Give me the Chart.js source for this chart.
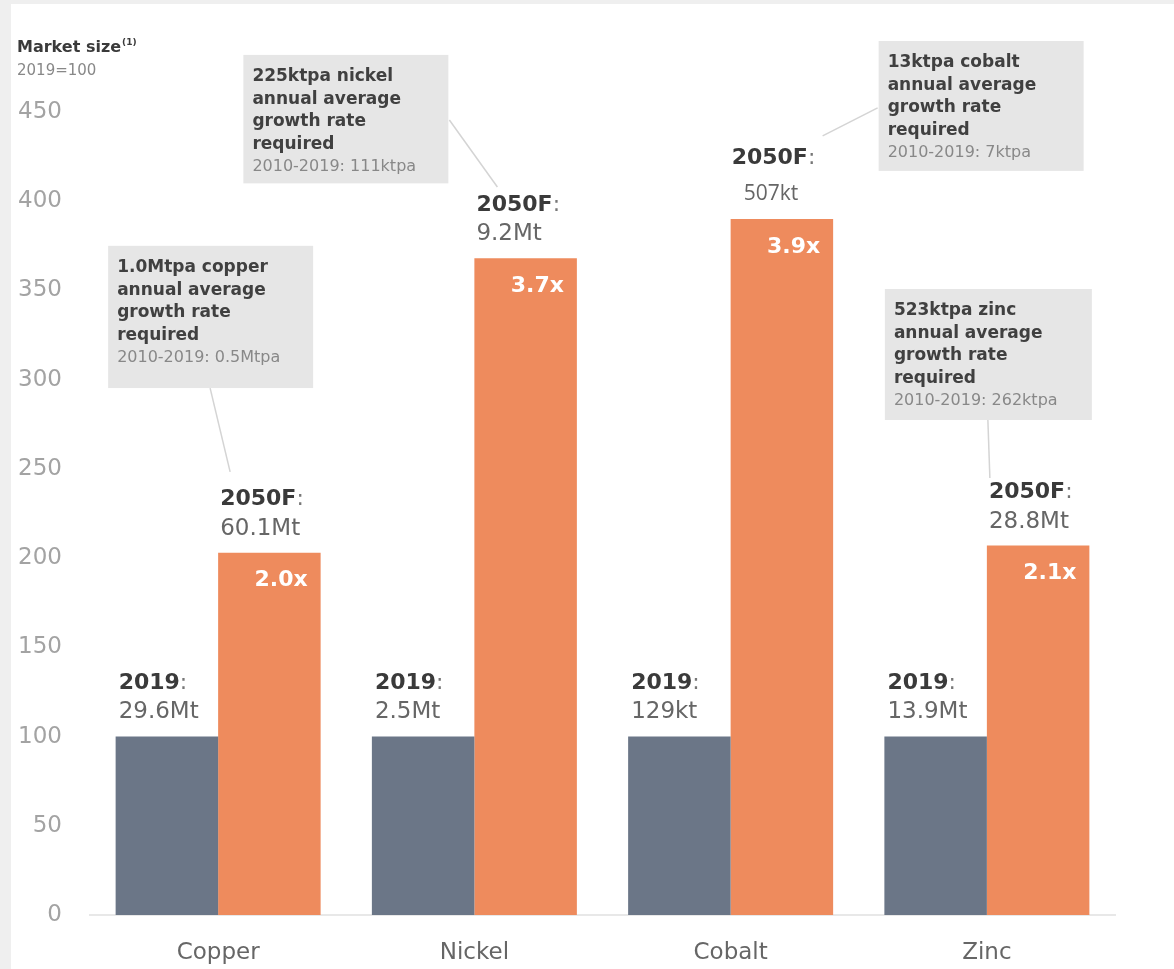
<!DOCTYPE html>
<html>
<head>
<meta charset="utf-8">
<script src="https://cdn.jsdelivr.net/npm/chart.js@4.4.0/dist/chart.umd.min.js"></script>
<style>
    html, body { margin: 0; padding: 0; background: #fff; }
    #contenedor { position: relative; width: 1174px; height: 969px; }
</style>
</head>
<body>
<div id="contenedor"><canvas id="grafico"></canvas></div>
<script>
// Datos: tamaño de mercado indexado (2019 = 100)
const metales = ['Copper', 'Nickel', 'Cobalt', 'Zinc'];
const indice2019 = [100, 100, 100, 100];
const indice2050 = [203, 368, 390, 207];
const mercado2019 = ['29.6Mt', '2.5Mt', '129kt', '13.9Mt'];
const mercado2050 = ['60.1Mt', '9.2Mt', '507kt', '28.8Mt'];
const multiplicador = ['2.0x', '3.7x', '3.9x', '2.1x'];
const notasCrecimiento = [
    ['1.0Mtpa copper', 'annual average', 'growth rate', 'required'],
    ['225ktpa nickel', 'annual average', 'growth rate', 'required'],
    ['13ktpa cobalt', 'annual average', 'growth rate', 'required'],
    ['523ktpa zinc', 'annual average', 'growth rate', 'required']
];
const notasHistorico = ['2010-2019: 0.5Mtpa', '2010-2019: 111ktpa', '2010-2019: 7ktpa', '2010-2019: 262ktpa'];
const ticksY = [0, 50, 100, 150, 200, 250, 300, 350, 400, 450];

// Posición de las cajas de nota: x relativo al centro de la categoría, y en unidades del eje
const cajas = [
    { dx: -110, ancho: 205, arriba: 375, abajo: 295.3, linea: [-8, 295.3, 12, 248.3] },
    { dx: -231, ancho: 205, arriba: 482, abajo: 410, linea: [-25, 445.5, 23, 408] },
    { dx: 148, ancho: 205, arriba: 489.8, abajo: 417, linea: [92, 436.6, 147, 452.3] },
    { dx: -102, ancho: 207, arriba: 350.8, abajo: 277.4, linea: [1, 277.4, 3, 244.9] }
];

const FUENTE = '"DejaVu Sans", sans-serif';

function textoDosPartes(ctx, x, y, negrita, resto, tam) {
    ctx.font = `bold ${tam}px ${FUENTE}`;
    ctx.fillStyle = '#3a3a3a';
    ctx.fillText(negrita, x, y);
    const w = ctx.measureText(negrita).width;
    ctx.font = `${tam}px ${FUENTE}`;
    ctx.fillStyle = '#777';
    ctx.fillText(resto, x + w, y);
}

const etiquetasPlugin = {
    id: 'etiquetas',
    beforeDraw(chart) {
        const ctx = chart.ctx;
        ctx.save();
        ctx.fillStyle = '#efefef';
        ctx.fillRect(0, 0, 11, chart.height);
        ctx.fillRect(0, 0, chart.width, 4);

        // Título del eje
        ctx.textBaseline = 'middle';
        ctx.textAlign = 'left';
        ctx.font = `bold 16px ${FUENTE}`;
        ctx.fillStyle = '#3a3a3a';
        ctx.fillText('Market size', 17, 48);
        const w = ctx.measureText('Market size').width;
        ctx.font = `bold 9px ${FUENTE}`;
        ctx.fillText('(1)', 17 + w + 1, 43);
        ctx.font = `15px ${FUENTE}`;
        ctx.fillStyle = '#888';
        ctx.fillText('2019=100', 17, 71);
        ctx.restore();
    },
    afterDatasetsDraw(chart) {
        const ctx = chart.ctx;
        const y = chart.scales.y;
        const x = chart.scales.x;
        const barras19 = chart.getDatasetMeta(0).data;
        const barras50 = chart.getDatasetMeta(1).data;
        ctx.save();
        ctx.textBaseline = 'middle';

        metales.forEach((m, i) => {
            // Etiquetas 2019
            const b19 = barras19[i];
            const izq19 = b19.x - b19.width / 2;
            ctx.textAlign = 'left';
            textoDosPartes(ctx, izq19 + 3, b19.y - 53, '2019', ':', 22);
            ctx.font = `23px ${FUENTE}`;
            ctx.fillStyle = '#666';
            ctx.fillText(mercado2019[i], izq19 + 3, b19.y - 25);

            // Etiquetas 2050F
            const b50 = barras50[i];
            const izq50 = b50.x - b50.width / 2;
            const der50 = b50.x + b50.width / 2;
            if (m === 'Cobalt') {
                textoDosPartes(ctx, izq50 + 1, b50.y - 61, '2050F', ':', 22);
                ctx.font = `21px "Open Sans", sans-serif`;
                ctx.fillStyle = '#666';
                ctx.fillText(mercado2050[i], izq50 + 13, b50.y - 25);
            } else {
                textoDosPartes(ctx, izq50 + 2, b50.y - 53, '2050F', ':', 22);
                ctx.font = `23px ${FUENTE}`;
                ctx.fillStyle = '#666';
                ctx.fillText(mercado2050[i], izq50 + 2, b50.y - 24);
            }

            // Multiplicador dentro de la barra
            ctx.textAlign = 'right';
            ctx.font = `bold 22px ${FUENTE}`;
            ctx.fillStyle = '#fff';
            ctx.fillText(multiplicador[i], der50 - 13, b50.y + 28);

            // Caja de nota y línea guía
            const c = cajas[i];
            const centro = x.getPixelForValue(i);
            const l = c.linea;
            ctx.strokeStyle = '#d4d4d4';
            ctx.lineWidth = 1.5;
            ctx.beginPath();
            ctx.moveTo(centro + l[0], y.getPixelForValue(l[1]));
            ctx.lineTo(centro + l[2], y.getPixelForValue(l[3]));
            ctx.stroke();

            const top = y.getPixelForValue(c.arriba);
            const bottom = y.getPixelForValue(c.abajo);
            const left = centro + c.dx;
            ctx.fillStyle = '#e6e6e6';
            ctx.fillRect(left, top, c.ancho, bottom - top);

            ctx.textAlign = 'left';
            ctx.font = `bold 17px ${FUENTE}`;
            ctx.fillStyle = '#404040';
            notasCrecimiento[i].forEach((linea, k) => {
                ctx.fillText(linea, left + 9, top + 22 + k * 22.5);
            });
            ctx.font = `16px ${FUENTE}`;
            ctx.fillStyle = '#888';
            ctx.fillText(notasHistorico[i], left + 9, top + 22 + 4 * 22.5);
        });
        ctx.restore();
    }
};

new Chart(document.getElementById('grafico'), {
    type: 'bar',
    data: {
        labels: metales,
        datasets: [
            { label: '2019', data: indice2019, backgroundColor: '#6b7687', borderWidth: 0 },
            { label: '2050F', data: indice2050, backgroundColor: '#ee8b5d', borderWidth: 0 }
        ]
    },
    options: {
        responsive: true,
        maintainAspectRatio: false,
        animation: false,
        datasets: { bar: { categoryPercentage: 0.8, barPercentage: 1.0 } },
        layout: { padding: { top: 112, right: 59, left: 0, bottom: 0 } },
        plugins: {
            legend: { display: false },
            tooltip: { enabled: false }
        },
        scales: {
            x: {
                grid: { display: false, drawTicks: false },
                border: { display: true, color: '#e8e8e8', width: 2 },
                ticks: {
                    padding: 24,
                    color: '#666',
                    font: { family: 'DejaVu Sans', size: 23 }
                },
                afterFit: scale => { scale.height = 54; }
            },
            y: {
                min: 0,
                max: 450,
                afterBuildTicks: scale => { scale.ticks = ticksY.map(v => ({ value: v })); },
                grid: { display: false, drawTicks: false },
                border: { display: false },
                ticks: {
                    padding: 28,
                    color: '#a3a3a3',
                    font: { family: 'DejaVu Sans', size: 23 }
                },
                afterFit: scale => { scale.width = 90; }
            }
        }
    },
    plugins: [etiquetasPlugin]
});
</script>
</body>
</html>
